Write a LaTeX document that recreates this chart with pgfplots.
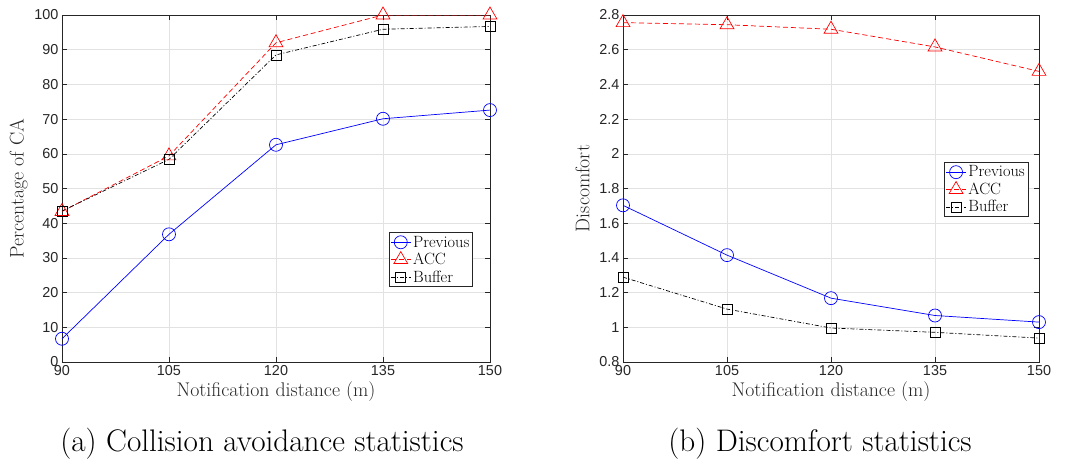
\documentclass[border=0pt]{standalone}
\usepackage{pgfplots}
\pgfplotsset{compat=1.18}
\usepackage{fontspec}
\newfontfamily\ticksf{Liberation Sans}
\definecolor{axgray}{HTML}{262626}
\definecolor{gridgray}{HTML}{E2E2E2}
\pgfplotsset{
 mystyle/.style={
  scale only axis, width=428pt, height=347pt,
  xmin=90, xmax=150, xtick={90,105,120,135,150},
  axis line style={axgray, line width=0.6pt},
  tick style={axgray, line width=0.6pt},
  tick align=inside, major tick length=5pt,
  grid=major, major grid style={gridgray, line width=0.6pt},
  ticklabel style={font=\ticksf\fontsize{14.4}{16}\selectfont, text=axgray},
  /pgf/number format/assume math mode=true,
  xlabel={Notification distance (m)},
  xlabel style={font=\fontsize{19.8}{22}\selectfont, text=axgray, yshift=1pt},
  ylabel style={font=\fontsize{19.8}{22}\selectfont, text=axgray},
  legend style={font=\fontsize{16.3}{17}\selectfont, draw=axgray, line width=0.6pt, inner sep=1.2pt, row sep=0.5pt, cells={anchor=west}},
  legend cell align=left,
  legend image code/.code={\draw[mark repeat=2,mark phase=2] plot coordinates {(0pt,0pt)(10pt,0pt)(20pt,0pt)};},
  every axis plot/.append style={line width=0.7pt},
 },
 prev/.style={blue, solid, mark=o, mark size=6.5pt, mark options={solid}},
 acc/.style={red, dash pattern=on 5pt off 3pt, mark=triangle, mark size=8pt, mark options={solid}},
 buf/.style={black, dash pattern=on 4pt off 2pt on 1pt off 2pt, mark=square, mark size=5pt, mark options={solid}},
}
\begin{document}
\begin{tikzpicture}
\begin{axis}[mystyle, ymin=0, ymax=100, ytick={0,10,...,100},
  ylabel={Percentage of CA},
  legend style={at={(0.960,0.216)}, anchor=south east}]
\addplot[prev] coordinates {(90,6.7) (105,36.8) (120,62.6) (135,70.1) (150,72.6)};
\addplot[acc] coordinates {(90,43.4) (105,59.4) (120,92.0) (135,100) (150,100)};
\addplot[buf] coordinates {(90,43.5) (105,58.4) (120,88.5) (135,95.9) (150,96.7)};
\legend{Previous, ACC, Buffer}
\end{axis}
\begin{axis}[mystyle, xshift=561pt, width=416pt, ymin=0.8, ymax=2.8, ytick={0.8,1,...,2.8},
  yticklabels={0.8,1,1.2,1.4,1.6,1.8,2,2.2,2.4,2.6,2.8},
  ylabel={Discomfort}, ylabel style={yshift=3pt},
  legend style={at={(0.974,0.418)}, anchor=south east}]
\addplot[prev] coordinates {(90,1.703) (105,1.416) (120,1.168) (135,1.068) (150,1.030)};
\addplot[acc] coordinates {(90,2.756) (105,2.744) (120,2.718) (135,2.616) (150,2.475)};
\addplot[buf] coordinates {(90,1.289) (105,1.105) (120,0.996) (135,0.971) (150,0.938)};
\legend{Previous, ACC, Buffer}
\end{axis}
\node[font=\fontsize{31.2}{34}\selectfont] at (200pt,-82pt) {(a) Collision avoidance statistics};
\node[font=\fontsize{31.2}{34}\selectfont] at (758pt,-82pt) {(b) Discomfort statistics};
\pgfresetboundingbox
\path (-62pt,-97pt) rectangle (1006pt,362pt);
\end{tikzpicture}
\end{document}
